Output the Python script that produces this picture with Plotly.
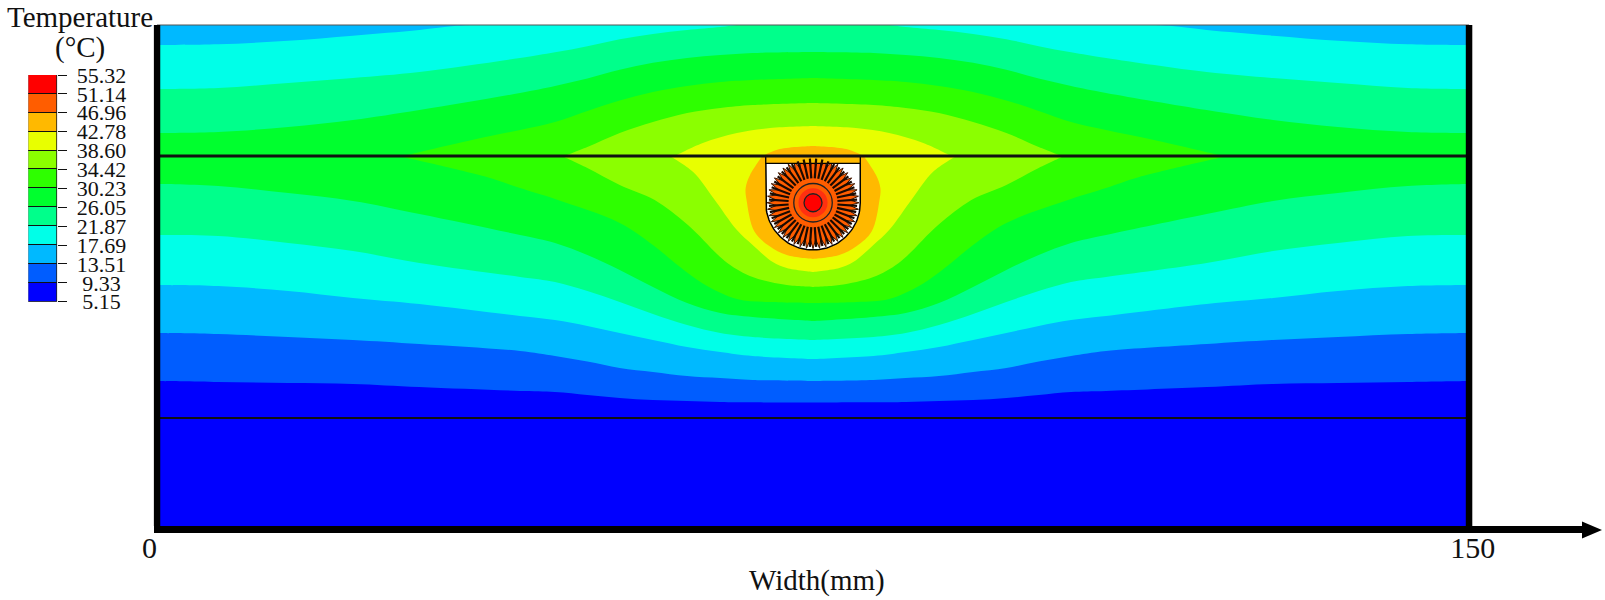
"""Temperature contour plot of a finned pipe in a panel, 150 mm wide."""

import numpy as np
import plotly.graph_objects as go

SERIF = "Liberation Serif"
FIG_W, FIG_H = 1605, 600
PX_PER_MM = 8.747

# legend
LEVELS = [5.15, 9.33, 13.51, 17.69, 21.87, 26.05, 30.23, 34.42, 38.60, 42.78, 46.96, 51.14, 55.32]
LEVEL_LABELS = ["5.15", "9.33", "13.51", "17.69", "21.87", "26.05", "30.23",
                "34.42", "38.60", "42.78", "46.96", "51.14", "55.32"]
BAND_COLORS = ["#0000FF", "#005DFF", "#00B9FF", "#00FFE8", "#00FF8B", "#00FF2E",
               "#2EFF00", "#8BFF00", "#E8FF00", "#FFB900", "#FF5D00", "#FF0000"]

# layer heights, mm above the bottom edge
TOP_Y = 57.62
INTERFACE_Y = 42.64
LOWER_LINE_Y = 12.69
WIDTH = 150

# columns the full-width contours were read at, left half only
# (the field is symmetric about 75 mm)
READ_X = [0, 7, 15, 22.4, 30, 41.5, 45.5, 49.2, 52.9, 56.7, 60.6, 64.4, 68.1, 75]

# contours above the interface
U1_X = [0, 7, 15, 22.4, 30, 34, 36]
U1_Y = [55.33, 55.41, 55.82, 56.4, 57.05, 57.5, 57.62]
U2_X = [0, 7, 15, 22.4, 30, 41.5, 45.5, 49.2, 52.9, 56.7, 60.6, 64.4, 66.3]
U2_Y = [50.3, 50.42, 50.99, 51.56, 52.25, 53.85, 54.5, 55.2, 56.0, 56.6, 57.05, 57.39, 57.62]
U3_Y = [45.27, 45.39, 45.96, 46.76, 47.9, 49.85, 50.65, 51.5, 52.5, 53.3, 53.85, 54.19, 54.42, 54.53]
U4_X = [28.1, 36, 41.5, 45.5, 49.2, 52.9, 56.7, 60.6, 64.4, 68.1, 75]
U4_Y = [42.64, 44.47, 45.62, 46.53, 47.8, 49.0, 49.96, 50.65, 51.1, 51.33, 51.56]
U5_X = [46.6, 49.2, 52.9, 56.7, 60.6, 64.4, 68.1, 75]
U5_Y = [42.64, 43.67, 45.27, 46.53, 47.56, 48.13, 48.47, 48.7]
U6_X = [59.2, 62.4, 66.3, 70.1, 75]
U6_Y = [42.64, 44.13, 45.27, 45.84, 46.07]
U7_X = [69.2, 71.2, 75]
U7_Y = [42.64, 43.44, 43.79]

# contours below the interface
L1_Y = [16.92, 16.81, 16.69, 16.58, 16.23, 15.78, 15.66, 15.32, 14.98, 14.75, 14.63, 14.52, 14.48, 14.46]
L2_Y = [22.41, 22.29, 21.95, 21.61, 21.15, 20.35, 19.78, 19.15, 18.41, 17.95, 17.49, 17.26, 17.03, 16.92]
L3_Y = [27.9, 27.78, 27.21, 26.41, 25.72, 24.35, 23.89, 23.21, 22.41, 21.61, 20.81, 20.24, 19.78, 19.43]
L4_Y = [33.61, 33.5, 32.7, 31.78, 30.41, 28.81, 28.24, 27.21, 25.95, 24.58, 23.32, 22.41, 21.95, 21.61]
L5_Y = [39.44, 39.21, 38.41, 37.5, 36.01, 33.61, 32.7, 31.33, 29.61, 27.67, 25.84, 24.69, 24.24, 23.78]
L6_X = [27.6, 37.7, 41.5, 45.5, 52.9, 56.7, 59.8, 62.4, 66.3, 70, 75]
L6_Y = [42.64, 40.24, 38.98, 37.73, 34.99, 32.47, 29.95, 28.07, 26.29, 25.95, 25.84]
L7_X = [46.3, 49.2, 52.9, 56.9, 60.7, 65.2, 68.1, 72, 75]
L7_Y = [42.64, 41.27, 39.33, 37.61, 34.76, 30.41, 28.81, 27.89, 27.67]
L8_X = [58.6, 61.3, 63.6, 66.3, 68.1, 70.4, 72, 75]
L8_Y = [42.64, 40.81, 37.84, 34.18, 32.47, 30.52, 29.84, 29.38]
L9_X = [69.2, 67.8, 67.3, 67.4, 68.3, 70, 72, 75]
L9_Y = [42.64, 40.47, 38.98, 37.61, 34.0, 32.35, 31.32, 30.87]

# pipe and fins
PIPE_X, PIPE_Y = 75, 37.3
CHANNEL_R = 5.4
STRIP_Y = 41.8
FIN_COUNT = 44
FIN_OUTER_R, FIN_INNER_R, FIN_ROOT_R = 5.25, 4.2, 2.8
SPOKE_R = 5.05
RING_R, HALO_R, BORE_R = 2.2, 1.66, 1.03


def px(x):
    return x / FIG_W


def py(y):
    return 1 - y / FIG_H


def band(xs, ys, color):
    """Mirror a half contour about mid-width and close it along the interface.

    Doubled points keep the spline straight along the closing edges.
    """
    left_x, left_y = [xs[0]] + list(xs), [ys[0]] + list(ys)
    if xs[-1] < WIDTH / 2:  # contour runs off the top edge before mid-width
        left_x.append(xs[-1])
        left_y.append(ys[-1])
    x = left_x + [WIDTH - v for v in reversed(left_x)] + [WIDTH, WIDTH, 0, 0]
    y = left_y + list(reversed(left_y)) + [INTERFACE_Y] * 4
    return go.Scatter(x=x, y=y, mode="lines", fill="toself", fillcolor=color,
                      line=dict(width=0, shape="spline", smoothing=1, simplify=False),
                      hoverinfo="skip", showlegend=False)


def outline(x, y, fill=None, line_color="black", width=1.5):
    return go.Scatter(x=x, y=y, mode="lines", fill="toself" if fill else None,
                      fillcolor=fill, line=dict(color=line_color, width=width),
                      hoverinfo="skip", showlegend=False)


fig = go.Figure()

# base layers
fig.add_trace(go.Scatter(x=[0, WIDTH, WIDTH, 0], y=[INTERFACE_Y, INTERFACE_Y, TOP_Y, TOP_Y], mode="lines",
                         fill="toself", fillcolor=BAND_COLORS[2], line=dict(width=0),
                         hoverinfo="skip", showlegend=False))
fig.add_trace(go.Scatter(x=[0, WIDTH, WIDTH, 0], y=[0, 0, INTERFACE_Y, INTERFACE_Y], mode="lines",
                         fill="toself", fillcolor=BAND_COLORS[0], line=dict(width=0),
                         hoverinfo="skip", showlegend=False))

for xs, ys, c in [(U1_X, U1_Y, 3), (U2_X, U2_Y, 4), (READ_X, U3_Y, 5), (U4_X, U4_Y, 6),
                  (U5_X, U5_Y, 7), (U6_X, U6_Y, 8), (U7_X, U7_Y, 9)]:
    fig.add_trace(band(xs, ys, BAND_COLORS[c]))

for xs, ys, c in [(READ_X, L1_Y, 1), (READ_X, L2_Y, 2), (READ_X, L3_Y, 3), (READ_X, L4_Y, 4),
                  (READ_X, L5_Y, 5), (L6_X, L6_Y, 6), (L7_X, L7_Y, 7), (L8_X, L8_Y, 8),
                  (L9_X, L9_Y, 9)]:
    fig.add_trace(band(xs, ys, BAND_COLORS[c]))

# channel: white U
arc = np.linspace(np.pi, 2 * np.pi, 60)
ch_x = [PIPE_X - CHANNEL_R] + list(PIPE_X + CHANNEL_R * np.cos(arc)) + [PIPE_X + CHANNEL_R]
ch_y = [INTERFACE_Y] + list(PIPE_Y + CHANNEL_R * np.sin(arc)) + [INTERFACE_Y]
fig.add_trace(outline(ch_x, ch_y, fill="white"))

# fins, with the orange strip lying over their top ends
fin_a = np.arange(FIN_COUNT) * 2 * np.pi / FIN_COUNT
star_a = np.arange(2 * FIN_COUNT + 1) * np.pi / FIN_COUNT
star_r = np.where(np.arange(2 * FIN_COUNT + 1) % 2 == 0, FIN_OUTER_R, FIN_INNER_R)
fig.add_trace(outline(PIPE_X + star_r * np.cos(star_a), PIPE_Y + star_r * np.sin(star_a),
                      fill=BAND_COLORS[10], line_color="#3a1500", width=1))
fig.add_trace(outline(
    [PIPE_X - CHANNEL_R, PIPE_X + CHANNEL_R, PIPE_X + CHANNEL_R, PIPE_X - CHANNEL_R, PIPE_X - CHANNEL_R],
    [INTERFACE_Y, INTERFACE_Y, STRIP_Y, STRIP_Y, INTERFACE_Y],
    fill=BAND_COLORS[9], width=1.2))
spoke_x, spoke_y = [], []
for a in fin_a + np.pi / FIN_COUNT:
    spoke_x += [PIPE_X + FIN_ROOT_R * np.cos(a), PIPE_X + SPOKE_R * np.cos(a), None]
    spoke_y += [PIPE_Y + FIN_ROOT_R * np.sin(a), PIPE_Y + SPOKE_R * np.sin(a), None]
fig.add_trace(go.Scatter(x=spoke_x, y=spoke_y, mode="lines", line=dict(color="#1a0a00", width=2.2),
                         hoverinfo="skip", showlegend=False))


def circle(r, fill, line_color=None, width=0):
    fig.add_shape(type="circle", xref="x", yref="y", x0=PIPE_X - r, x1=PIPE_X + r,
                  y0=PIPE_Y - r, y1=PIPE_Y + r, fillcolor=fill,
                  line=dict(color=line_color or fill, width=width))


circle(RING_R, BAND_COLORS[10], "#222", 1.3)
circle(HALO_R, "#FF3010")
circle(BORE_R, BAND_COLORS[11], "#222", 1.3)

# layer lines and frame
for y, w, col in [(INTERFACE_Y, 3, "#111"), (LOWER_LINE_Y, 2, "#111"), (TOP_Y, 1, "#555")]:
    fig.add_shape(type="line", xref="x", yref="y", x0=0, x1=WIDTH, y0=y, y1=y,
                  line=dict(color=col, width=w))
for x in [0, WIDTH]:
    fig.add_shape(type="line", xref="x", yref="y", x0=x, x1=x, y0=0, y1=TOP_Y,
                  line=dict(color="black", width=6.5))

# arrow head on the width axis
fig.add_shape(type="path", xref="paper", yref="paper", fillcolor="black", line=dict(width=0),
              path=f"M {px(1582)} {py(521.5)} L {px(1602)} {py(530)} L {px(1582)} {py(538.5)} Z")

# legend as a stacked bar on its own axis
fig.add_trace(go.Bar(
    x=["T"] * len(BAND_COLORS), y=np.diff(LEVELS), base=LEVELS[:-1],
    marker=dict(color=BAND_COLORS, line=dict(color="#111", width=1)),
    xaxis="x2", yaxis="y2", hoverinfo="skip", showlegend=False,
))

x_left = (153.5 - 157) / PX_PER_MM
x_right = (1583 - 157) / PX_PER_MM
note_font = dict(size=29, family=SERIF, color="#111")
fig.update_layout(
    width=FIG_W, height=FIG_H,
    margin=dict(l=0, r=0, t=0, b=0),
    paper_bgcolor="white", plot_bgcolor="white",
    font=dict(family=SERIF, color="#111"),
    showlegend=False,
    barmode="overlay", bargap=0,
    xaxis=dict(
        domain=[px(153.5), px(1583)], range=[x_left, x_right],
        tickvals=[0, WIDTH], ticktext=["0\u00a0\u00a0", "\u00a0150"],
        tickfont=dict(size=30, family=SERIF, color="#111"),
        ticks="", showgrid=False, zeroline=False, ticklabelstandoff=-11,
        showline=True, linecolor="black", linewidth=6.5, automargin=False,
    ),
    yaxis=dict(
        domain=[(FIG_H - 526) / FIG_H, 1], range=[3 / PX_PER_MM, 529 / PX_PER_MM],
        visible=False, showgrid=False, zeroline=False,
    ),
    xaxis2=dict(domain=[px(28.3), px(57.3)], anchor="y2", visible=False),
    yaxis2=dict(
        domain=[py(301.7), py(75)], range=[LEVELS[0], LEVELS[-1]],
        anchor="x2", side="right",
        tickvals=LEVELS,
        ticktext=[("\u00a0" + t if len(t) == 4 else t) for t in LEVEL_LABELS],
        tickfont=dict(size=22, family=SERIF, color="#111"),
        ticks="outside", ticklen=9, tickwidth=1, tickcolor="#111",
        ticklabelstandoff=5, showgrid=False, zeroline=False, automargin=False,
    ),
    annotations=[
        dict(text="Temperature", xref="paper", yref="paper", x=px(80), y=py(17), showarrow=False,
             xanchor="center", yanchor="middle", font=note_font),
        dict(text="(°C)", xref="paper", yref="paper", x=px(80), y=py(48), showarrow=False,
             xanchor="center", yanchor="middle", font=note_font),
        dict(text="Width(mm)", xref="paper", yref="paper", x=px(817), y=py(580), showarrow=False,
             xanchor="center", yanchor="middle", font=note_font),
    ],
)

# the page's default body margin would shift the figure by 8 px
fig.write_html("out.html", config={"displayModeBar": False},
               post_script="document.body.style.margin='0';")
